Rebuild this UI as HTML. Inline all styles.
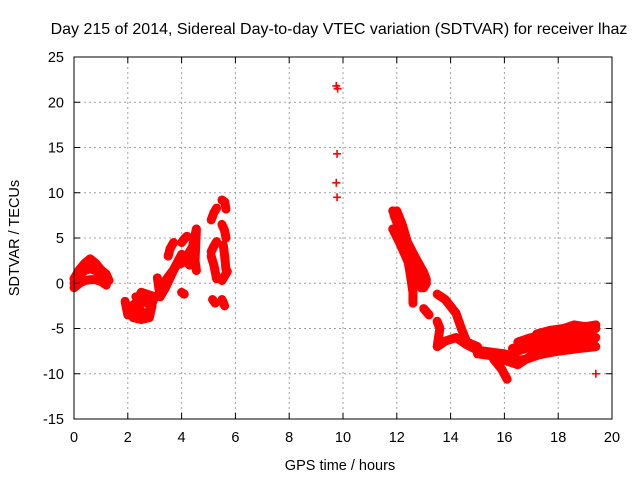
<!DOCTYPE html>
<html><head><meta charset="utf-8"><style>
html,body{margin:0;padding:0;background:#fff}
svg{display:block;font-family:"Liberation Sans",sans-serif}
</style></head><body>
<svg id="chart" width="640" height="480" viewBox="0 0 640 480">
<rect width="640" height="480" fill="#fff"/>
<text x="339" y="34" font-size="16" text-anchor="middle">Day 215 of 2014, Sidereal Day-to-day VTEC variation (SDTVAR) for receiver lhaz</text>
<g id="grid"></g>
<g id="marks"></g>
<rect x="74" y="57" width="538" height="362" fill="none" stroke="#000" stroke-width="1"/>
<g id="ticks"></g>
<text x="340" y="470" font-size="14.5" text-anchor="middle">GPS time / hours</text>
<text transform="translate(19,238) rotate(-90)" font-size="14.5" text-anchor="middle">SDTVAR / TECUs</text>
</svg>
<script>
const xTicks=[0,2,4,6,8,10,12,14,16,18,20];
const yTicks=[25,20,15,10,5,0,-5,-10,-15];
const trackArcUpper=[[0,0.5],[0.2,1.5],[0.4,2.2],[0.6,2.7],[0.8,2.2],[1.0,1.5],[1.2,1.0],[1.3,0.3]];
const trackArcMid=[[0,0],[0.2,0.9],[0.4,1.4],[0.6,1.6],[0.8,1.4],[1.0,1.0],[1.2,0.5]];
const trackArcLower=[[0,-0.5],[0.2,0],[0.4,0.3],[0.6,0.4],[0.8,0.4],[1.0,0.2],[1.2,-0.2]];
const trackDip=[[1.9,-2],[2.0,-3.5],[2.2,-3],[2.4,-2.5],[2.6,-3.8],[2.8,-3],[3.0,-1.5],[2.7,-1.2],[2.5,-1],[2.3,-2.2],[2.1,-2.6],[2.4,-3.6]];
const trackDip2=[[2.0,-2.5],[2.2,-3.8],[2.5,-4],[2.8,-3.8],[2.9,-2.5],[2.6,-2.0],[2.3,-1.5]];
const trackRise=[[3.1,0.6],[3.2,-1.5],[3.4,-0.5],[3.6,0.8],[3.8,2],[4.0,2.2],[4.2,3],[4.4,4],[4.55,6],[4.5,2.5],[4.55,1.4]];
const trackRiseB=[[3.4,0.3],[3.7,1.5],[4.0,3.2],[4.3,2.0],[4.5,4.5]];
const trackRise2=[[3.5,3],[3.57,3.8],[3.7,4.5]];
const trackRise3=[[4.0,4.5],[4.1,4.9],[4.2,5.2]];
const trackLate1=[[5.1,7],[5.2,7.8],[5.3,8.3]];
const trackLate2=[[5.5,9.2],[5.6,9],[5.65,8.2]];
const trackLate3=[[5.5,6.5],[5.6,5.8],[5.65,5]];
const trackLate4=[[5.1,3.5],[5.2,4.1],[5.3,4.6]];
const trackLate5=[[5.55,4.2],[5.6,3],[5.65,1.5]];
const trackLate6=[[5.1,3],[5.2,2],[5.3,0.5]];
const trackLate7=[[5.5,0.3],[5.6,0.8],[5.7,1.3]];
const trackLate8=[[5.15,-1.8],[5.25,-2.2]];
const trackLate9=[[5.5,-1.8],[5.6,-2.5]];
const trackLate10=[[4.0,-1.0],[4.1,-1.2]];
const trackEvening=[[11.85,8],[12.0,7],[12.1,5.5],[12.3,4],[12.5,3],[12.7,2],[12.9,1],[13.1,0],[13.0,-0.5]];
const trackEveningB=[[11.9,7.5],[12.1,6],[12.3,4.5],[12.5,1],[12.6,-1],[12.6,-2.2]];
const trackEveningD=[[12.0,8],[12.2,6.5],[12.4,4.5],[12.7,2.8],[13.0,1.2],[13.1,0.4]];
const trackEveningE=[[11.85,6],[12.1,4.5],[12.4,2.5],[12.7,0.8],[12.9,-0.5]];
const trackEveningC=[[13.0,-2.8],[13.2,-3.5]];
const trackNight1=[[13.5,-1.2],[13.8,-1.8],[14.2,-3.3],[14.4,-5],[14.6,-6.5],[15.0,-7]];
const trackNight2=[[13.5,-4.2],[13.6,-5],[13.5,-7.0],[13.8,-6.4],[14.2,-6.0],[14.6,-6.8],[15.0,-7.4],[15.5,-7.6],[16,-7.8]];
const trackNight3=[[15.6,-8.4],[15.9,-9.5],[16.1,-10.6]];
const trackNight4=[[15.0,-7.8],[15.5,-8.0],[16.0,-8.2]];
const trackMorningA=[[16.0,-7.8],[16.2,-8],[16.5,-7.5],[17,-7],[17.5,-6.5],[18,-6],[18.5,-5.5],[19.3,-5]];
const trackMorningB=[[16.0,-8.5],[16.5,-9],[17,-8],[17.5,-7.5],[18,-7],[18.5,-7],[19.3,-6.5]];
const trackMorningC=[[16.5,-6.5],[17,-6],[17.5,-5.8],[18,-5.5],[18.5,-5],[19,-5.5],[19.4,-5]];
const trackMorningD=[[16.3,-7.2],[16.8,-6.8],[17.3,-6.3],[17.8,-6.5],[18.3,-6.2],[18.8,-6.0],[19.4,-6.0]];
const trackMorningE=[[16.3,-8.6],[16.8,-8.4],[17.3,-7.9],[17.8,-7.6],[18.3,-7.4],[18.8,-7.2],[19.4,-7.0]];
const trackMorningF=[[17.2,-5.6],[17.7,-5.2],[18.2,-5.0],[18.6,-4.6],[19.0,-4.8],[19.4,-4.6]];
const isolatedX=[9.75,9.8,9.78,9.75,9.78,19.4];
const isolatedY=[21.8,21.5,14.3,11.1,9.5,-10];
const tracks=[trackArcUpper,trackArcMid,trackArcLower,trackDip,trackDip2,trackRise,trackRiseB,trackRise2,trackRise3,trackLate1,trackLate2,trackLate3,trackLate4,trackLate5,trackLate6,trackLate7,trackLate8,trackLate9,trackLate10,trackEvening,trackEveningB,trackEveningD,trackEveningE,trackEveningC,trackNight1,trackNight2,trackNight3,trackNight4,trackMorningA,trackMorningB,trackMorningC,trackMorningD,trackMorningE,trackMorningF];

const X0=74,X1=612,Y0=57,Y1=419;
const sx=v=>X0+(v-0)/(20-0)*(X1-X0);
const sy=v=>Y1-(v-(-15))/(25-(-15))*(Y1-Y0);
const NS="http://www.w3.org/2000/svg";
const grid=document.getElementById('grid'),ticks=document.getElementById('ticks'),marks=document.getElementById('marks');
function mk(t,a,p){const e=document.createElementNS(NS,t);for(const k in a)e.setAttribute(k,a[k]);p.appendChild(e);return e;}
xTicks.forEach(v=>{
  const x=sx(v);
  if(v>0&&v<20){const g=mk('line',{x1:x,x2:x,y1:Y0,y2:Y1,stroke:'#a0a0a0','stroke-dasharray':'2,3'},grid);
  
  }
  mk('line',{x1:x,x2:x,y1:Y1,y2:Y1-6,stroke:'#000'},ticks);
  mk('line',{x1:x,x2:x,y1:Y0,y2:Y0+6,stroke:'#000'},ticks);
  const t=mk('text',{x:x,y:Y1+23,'font-size':'14.5','text-anchor':'middle'},ticks);t.textContent=v;
  
  
});
yTicks.forEach(v=>{
  const y=sy(v);
  if(v>-15&&v<25){const g=mk('line',{x1:X0,x2:X1,y1:y,y2:y,stroke:'#a0a0a0','stroke-dasharray':'2,3'},grid);
  
  }
  mk('line',{x1:X0,x2:X0+6,y1:y,y2:y,stroke:'#000'},ticks);
  mk('line',{x1:X1,x2:X1-6,y1:y,y2:y,stroke:'#000'},ticks);
  const t=mk('text',{x:X0-10,y:y+5,'font-size':'14.5','text-anchor':'end'},ticks);t.textContent=v;
  
  
});
function plus(x,y){
  const p=mk('path',{d:`M${x-4},${y}h8M${x},${y-4}v8`,stroke:'#f00','stroke-width':'1.6',fill:'none'},marks);
  
  
}
tracks.forEach(tr=>{
  const pl=mk('polyline',{points:tr.map(p=>sx(p[0])+','+sy(p[1])).join(' '),stroke:'#f00','stroke-width':'9','stroke-linejoin':'round','stroke-linecap':'round',fill:'none'},marks);
  
  
  tr.forEach(p=>plus(sx(p[0]),sy(p[1])));
});
isolatedX.forEach((v,i)=>plus(sx(v),sy(isolatedY[i])));
</script>
</body></html>
